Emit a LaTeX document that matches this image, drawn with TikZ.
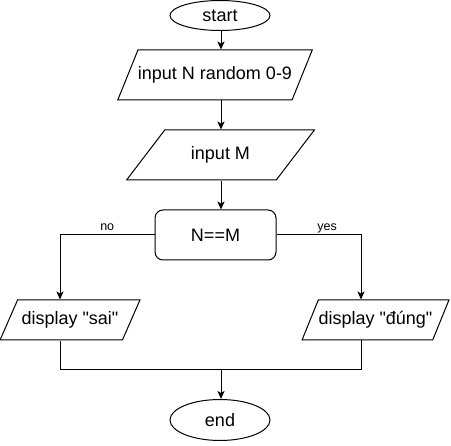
\documentclass[tikz,border=0pt]{standalone}
\usepackage{fontspec}
\setmainfont{Liberation Sans}[Ligatures=TeXOff]
\usetikzlibrary{arrows.meta, positioning, shapes.geometric}

\tikzset{
  base/.style={draw, line width=1pt, font=\fontsize{18}{21}\selectfont, inner sep=0pt},
  term/.style={base, ellipse, minimum width=100pt},
  io/.style={base, trapezium, trapezium left angle=68, trapezium right angle=112,
             trapezium stretches=true, text height=13pt, text depth=4pt, inner ysep=16.5pt},
  test/.style={base, rectangle, rounded corners=8pt, minimum width=121pt, minimum height=50pt},
  arr/.style={line width=1pt, -{Stealth[length=8pt, width=7pt, inset=2pt]}},
  wire/.style={line width=1pt},
  lbl/.style={font=\fontsize{12.5}{14}\selectfont, anchor=base, yshift=4pt}
}

\begin{document}
\begin{tikzpicture}[x=1pt, y=-1pt]
\useasboundingbox (0,0) rectangle (451,446);

\node[term, minimum height=30pt] (start) at (220,15.5) {start};
\node[io, minimum width=190pt] (inN) at (215,75) {input N random 0-9};
\node[io, minimum width=189pt] (inM) at (220.5,155) {input M};
\node[test] (cmp) at (215.5,235) {N==M};
\node[io, minimum width=140pt, inner ysep=11.5pt] (sai) at (70,320) {display "sai"};
\node[io, minimum width=147pt, inner ysep=11.5pt] (dung) at (375.5,320) {display "đúng"};
\node[term, minimum height=41pt] (stop) at (220,420) {end};

\coordinate (spine) at (221,0);
\coordinate (noX) at (60,0);
\coordinate (yesX) at (361,0);
\coordinate (join) at (221,370);

\draw[arr] (start.south -| spine) -- (inN.north -| spine);
\draw[arr] (inN.south -| spine) -- (inM.north -| spine);
\draw[arr] (inM.south -| spine) -- (cmp.north -| spine);
\draw[arr] (cmp.west) -| node[lbl, pos=0.25] {no} (sai.north -| noX);
\draw[arr] (cmp.east) -| node[lbl, pos=0.3] {yes} (dung.north -| yesX);
\draw[wire] (sai.south -| noX) |- (join);
\draw[wire] (dung.south -| yesX) |- (join);
\draw[arr] (join) -- (stop.north -| join);
\end{tikzpicture}
\end{document}
